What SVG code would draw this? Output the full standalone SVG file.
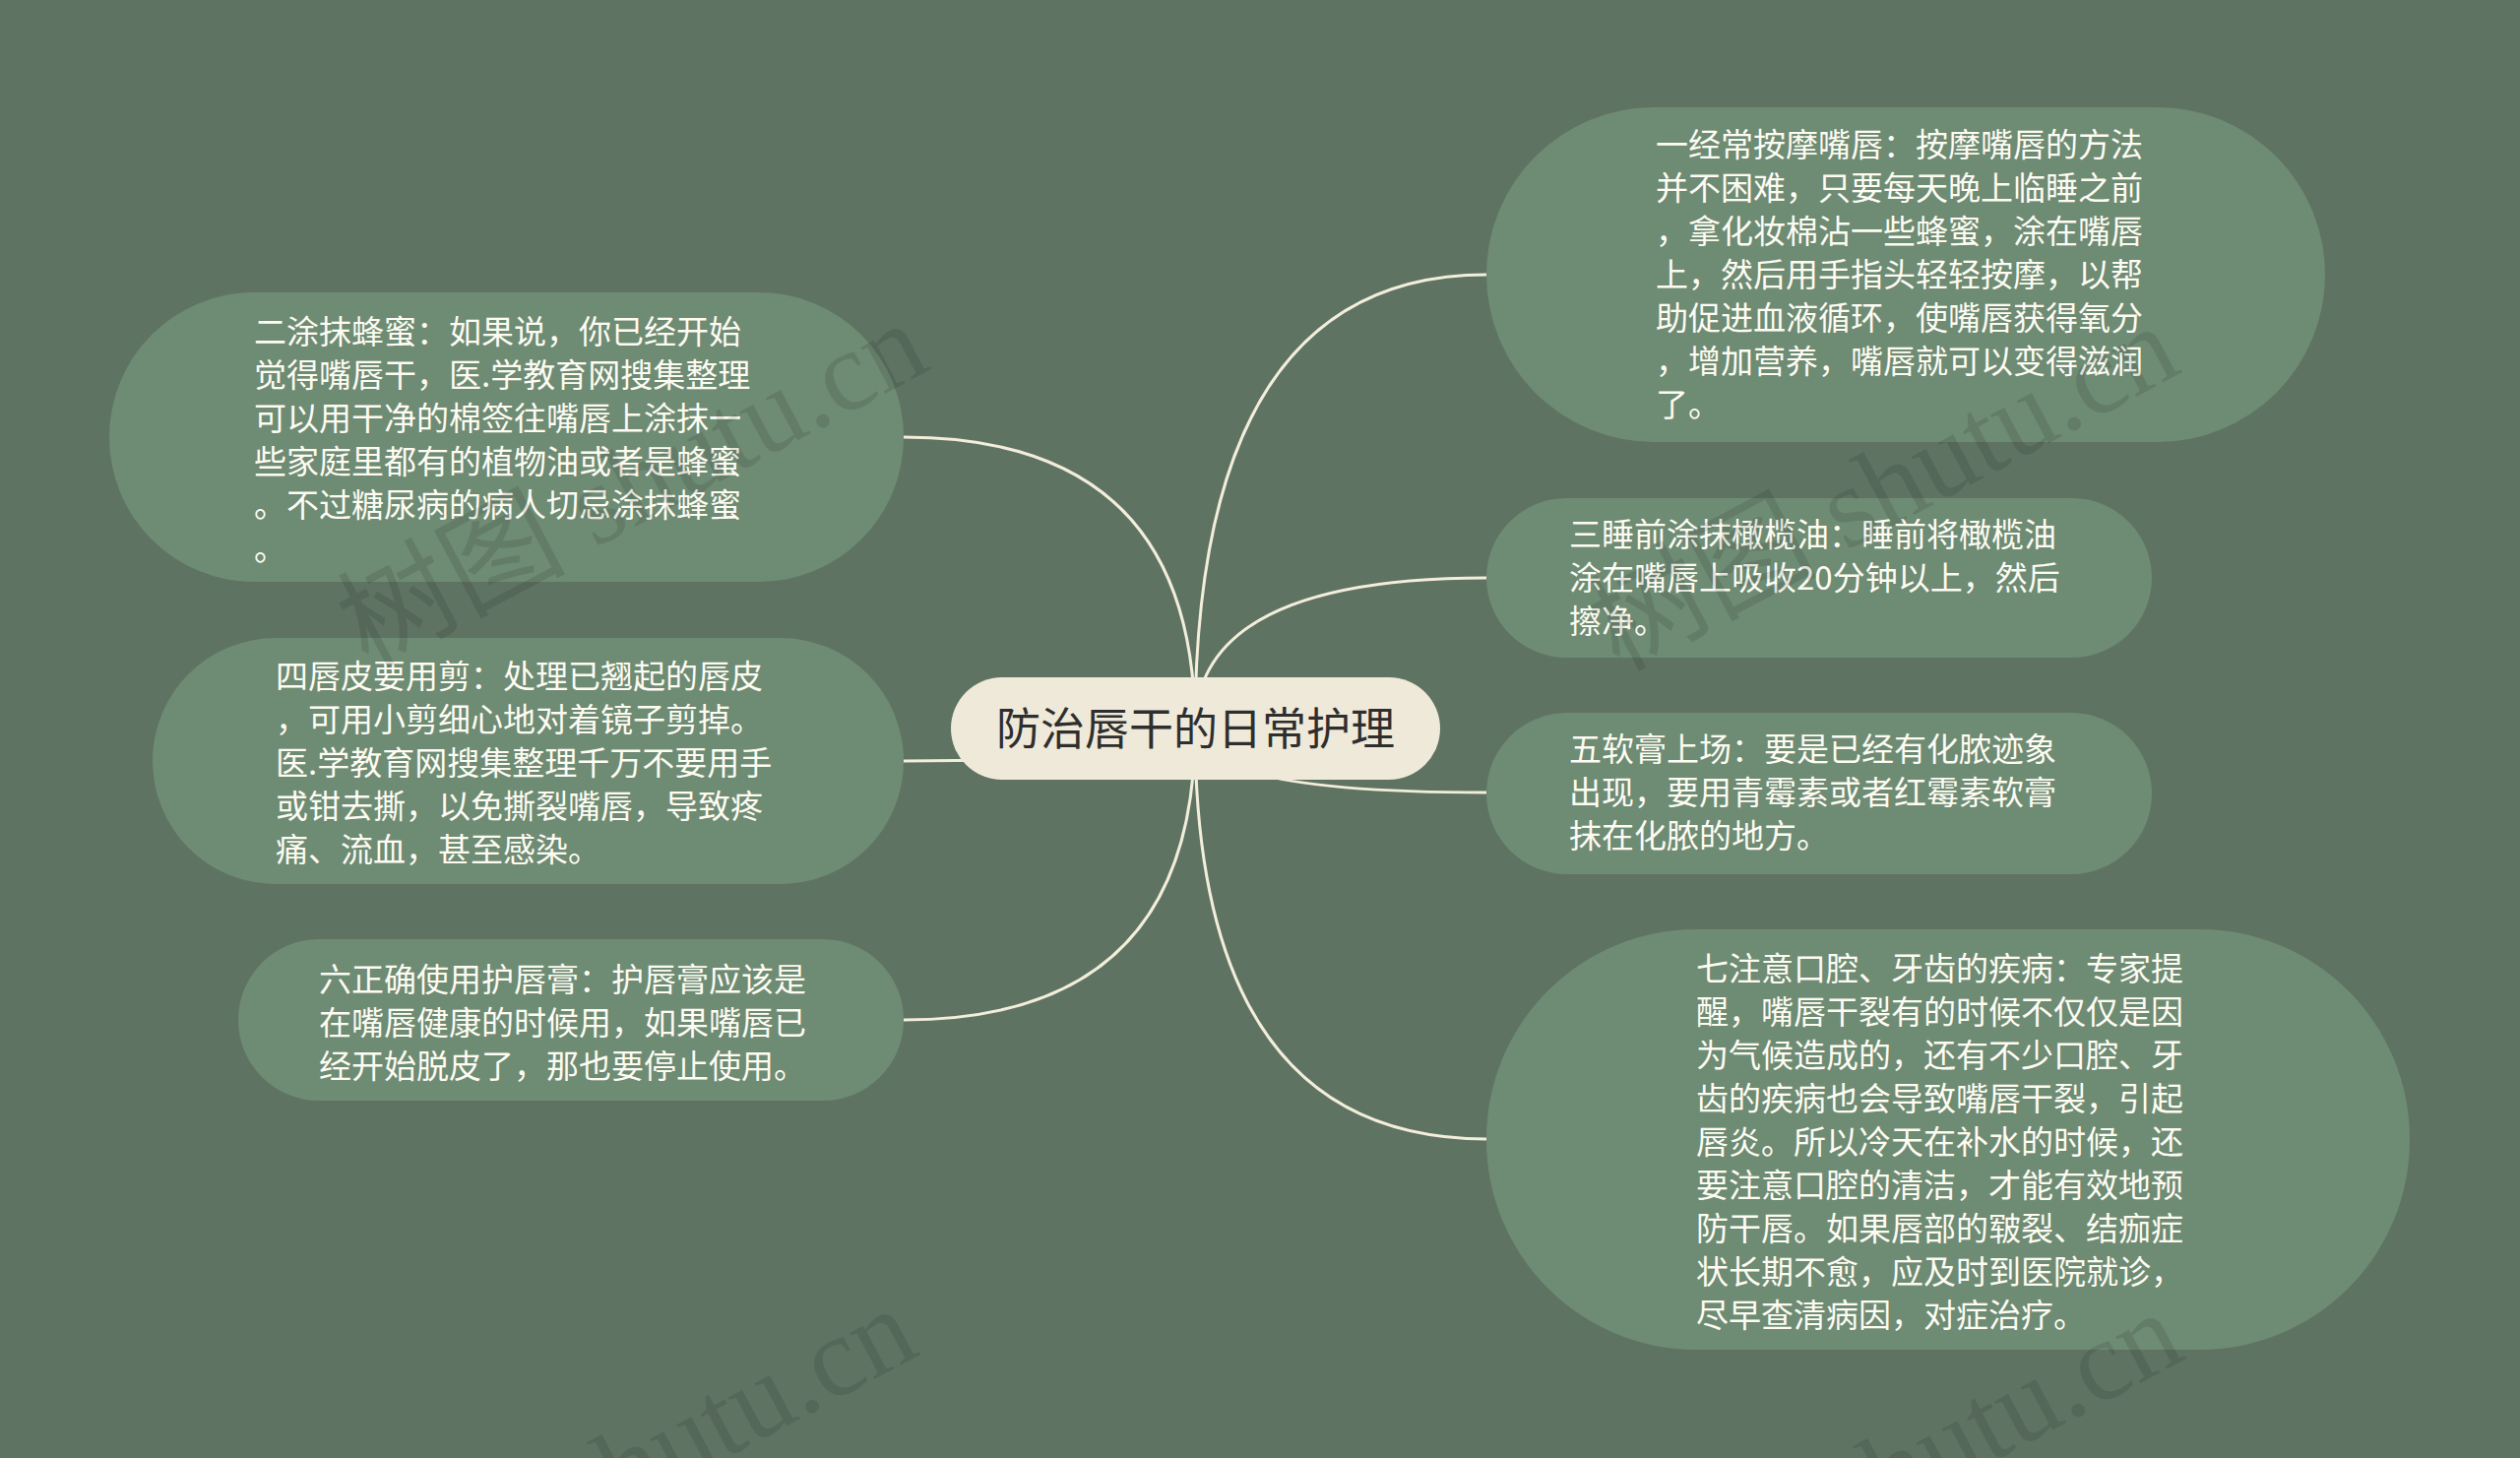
<svg xmlns="http://www.w3.org/2000/svg" width="2560" height="1481" viewBox="0 0 2560 1481">
<style>
.bg{fill:#5f7362}
.node{fill:#6e8b74}
.root{fill:#efe9d9}
.t{font-family:"Noto Sans CJK SC","Noto Sans",sans-serif;font-size:33px;fill:#fdfbf2}
.rt{font-family:"Noto Sans CJK SC","Noto Sans",sans-serif;font-size:45px;fill:#2e2e2e;text-anchor:middle}
.edge{fill:none;stroke:#f3eedb;stroke-width:3}
.wm{font-family:"Liberation Serif","Noto Sans CJK SC",serif;font-size:116px;fill:#000;fill-opacity:0.1;text-anchor:end}
</style>
<rect class="bg" x="0" y="0" width="2560" height="1481"/>
<g id="connectors">
<path class="edge" d="M1214 740 Q1214 279 1510 279"/>
<path class="edge" d="M1214 740 Q1214 587 1510 587"/>
<path class="edge" d="M1214 740 Q1214 805 1510 805"/>
<path class="edge" d="M1214 740 Q1214 1157 1510 1157"/>
<path class="edge" d="M1214 740 Q1214 444 918 444"/>
<path class="edge" d="M1214 740 Q1214 773 918 773"/>
<path class="edge" d="M1214 740 Q1214 1036 918 1036"/>
</g>
<g id="n1">
<rect class="node" x="1510" y="109" width="852" height="340" rx="170"/>
<text class="t" x="1682" y="159">一经常按摩嘴唇：按摩嘴唇的方法</text>
<text class="t" x="1682" y="203">并不困难，只要每天晚上临睡之前</text>
<text class="t" x="1682" y="247">，拿化妆棉沾一些蜂蜜，涂在嘴唇</text>
<text class="t" x="1682" y="291">上，然后用手指头轻轻按摩，以帮</text>
<text class="t" x="1682" y="335">助促进血液循环，使嘴唇获得氧分</text>
<text class="t" x="1682" y="379">，增加营养，嘴唇就可以变得滋润</text>
<text class="t" x="1682" y="423">了。</text>
</g>
<g id="n2">
<rect class="node" x="111" y="297" width="807" height="294" rx="147"/>
<text class="t" x="258" y="349">二涂抹蜂蜜：如果说，你已经开始</text>
<text class="t" x="258" y="393">觉得嘴唇干，医.学教育网搜集整理</text>
<text class="t" x="258" y="437">可以用干净的棉签往嘴唇上涂抹一</text>
<text class="t" x="258" y="481">些家庭里都有的植物油或者是蜂蜜</text>
<text class="t" x="258" y="525">。不过糖尿病的病人切忌涂抹蜂蜜</text>
<text class="t" x="258" y="569">。</text>
</g>
<g id="n3">
<rect class="node" x="1510" y="506" width="676" height="162" rx="81"/>
<text class="t" x="1594" y="555">三睡前涂抹橄榄油：睡前将橄榄油</text>
<text class="t" x="1594" y="599">涂在嘴唇上吸收20分钟以上，然后</text>
<text class="t" x="1594" y="643">擦净。</text>
</g>
<g id="n4">
<rect class="node" x="155" y="648" width="763" height="250" rx="125"/>
<text class="t" x="280" y="699">四唇皮要用剪：处理已翘起的唇皮</text>
<text class="t" x="280" y="743">，可用小剪细心地对着镜子剪掉。</text>
<text class="t" x="280" y="787">医.学教育网搜集整理千万不要用手</text>
<text class="t" x="280" y="831">或钳去撕，以免撕裂嘴唇，导致疼</text>
<text class="t" x="280" y="875">痛、流血，甚至感染。</text>
</g>
<g id="n5">
<rect class="node" x="1510" y="724" width="676" height="164" rx="82"/>
<text class="t" x="1594" y="773">五软膏上场：要是已经有化脓迹象</text>
<text class="t" x="1594" y="817">出现，要用青霉素或者红霉素软膏</text>
<text class="t" x="1594" y="861">抹在化脓的地方。</text>
</g>
<g id="n6">
<rect class="node" x="242" y="954" width="676" height="164" rx="82"/>
<text class="t" x="324" y="1007">六正确使用护唇膏：护唇膏应该是</text>
<text class="t" x="324" y="1051">在嘴唇健康的时候用，如果嘴唇已</text>
<text class="t" x="324" y="1095">经开始脱皮了，那也要停止使用。</text>
</g>
<g id="n7">
<rect class="node" x="1510" y="944" width="938" height="427" rx="213"/>
<text class="t" x="1723" y="996">七注意口腔、牙齿的疾病：专家提</text>
<text class="t" x="1723" y="1040">醒，嘴唇干裂有的时候不仅仅是因</text>
<text class="t" x="1723" y="1084">为气候造成的，还有不少口腔、牙</text>
<text class="t" x="1723" y="1128">齿的疾病也会导致嘴唇干裂，引起</text>
<text class="t" x="1723" y="1172">唇炎。所以冷天在补水的时候，还</text>
<text class="t" x="1723" y="1216">要注意口腔的清洁，才能有效地预</text>
<text class="t" x="1723" y="1260">防干唇。如果唇部的皲裂、结痂症</text>
<text class="t" x="1723" y="1304">状长期不愈，应及时到医院就诊，</text>
<text class="t" x="1723" y="1348">尽早查清病因，对症治疗。</text>
</g>
<g id="root">
<rect class="root" x="966" y="688" width="497" height="104" rx="52"/>
<text class="rt" x="1214.5" y="757">防治唇干的日常护理</text>
</g>
<g id="watermarks">
<text class="wm" transform="translate(948 374) rotate(-28)">树图 shutu.cn</text>
<text class="wm" transform="translate(2219 377) rotate(-28)">树图 shutu.cn</text>
<text class="wm" transform="translate(937 1375) rotate(-28)">树图 shutu.cn</text>
<text class="wm" transform="translate(2223 1379) rotate(-28)">树图 shutu.cn</text>
</g>
</svg>
